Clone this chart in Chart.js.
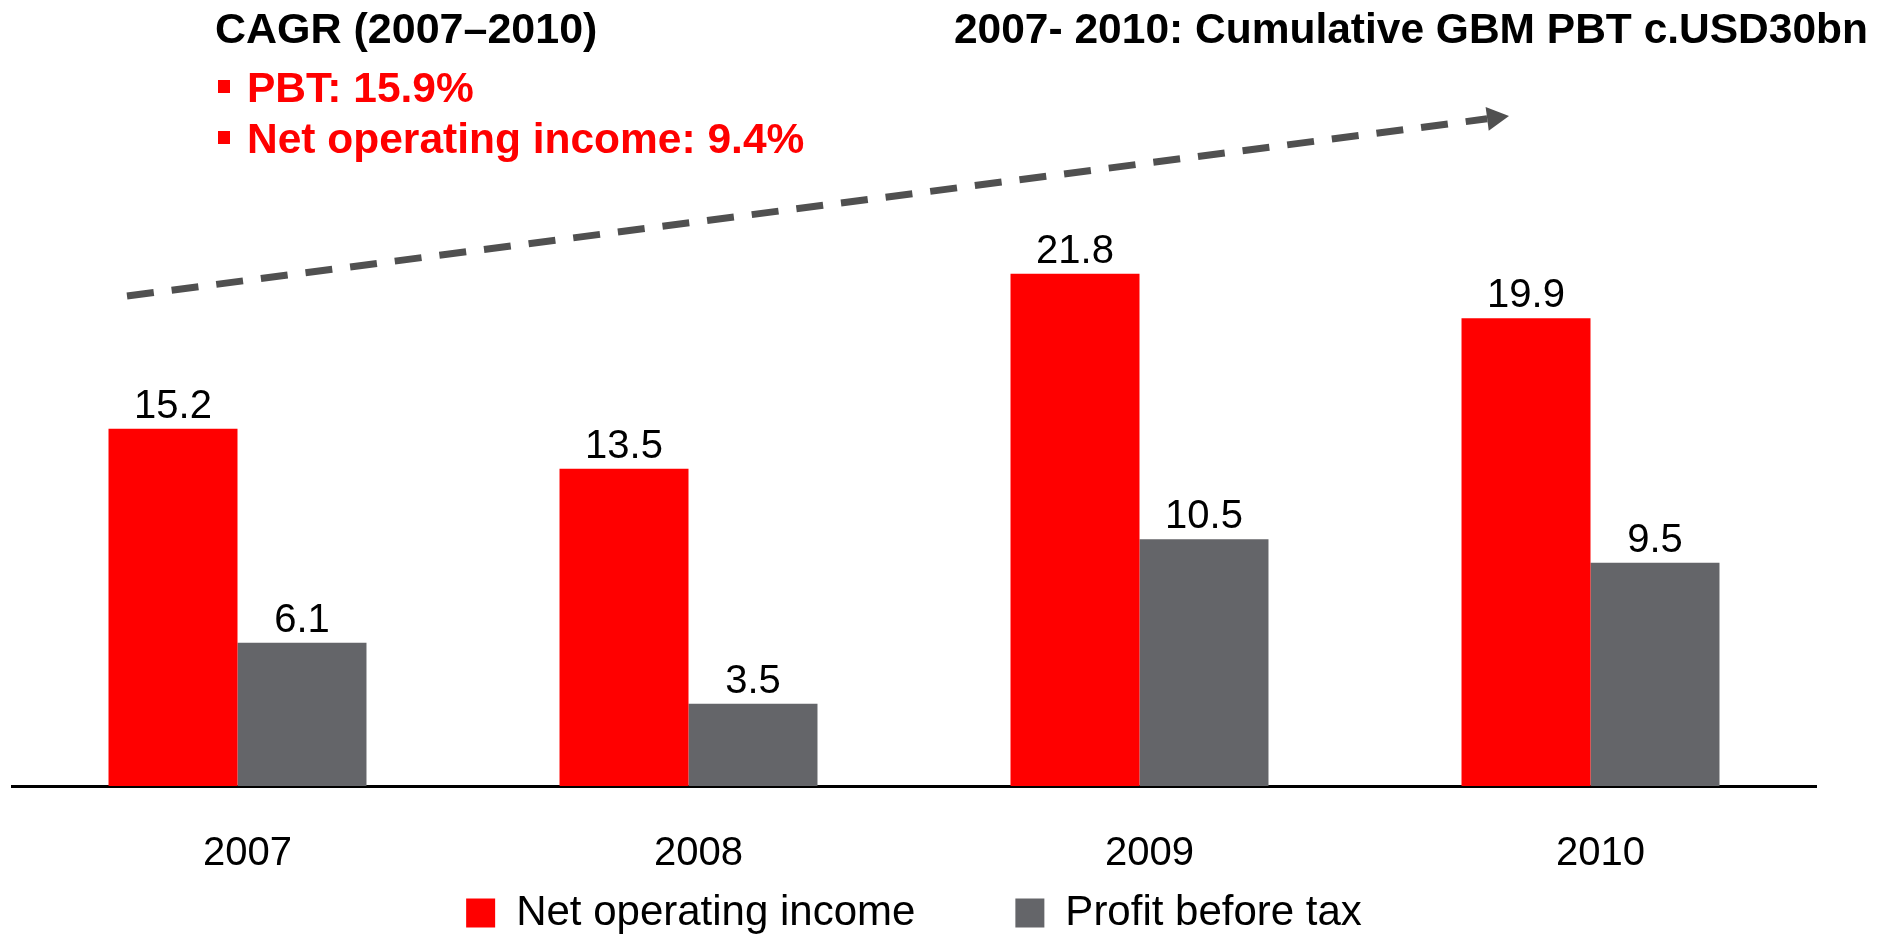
<!DOCTYPE html>
<html>
<head>
<meta charset="utf-8">
<title>GBM net operating income and PBT 2007-2010</title>
<script src="https://cdn.jsdelivr.net/npm/chart.js@4.4.1/dist/chart.umd.min.js"></script>
<style>
  html, body { margin: 0; padding: 0; background: #ffffff; overflow: hidden; }
  canvas { display: block; }
</style>
</head>
<body>
<canvas id="gbmChart" width="1892" height="937"></canvas>
<script>
// data (USD bn)
const years = ["2007", "2008", "2009", "2010"];
const netOperatingIncome = [15.2, 13.5, 21.8, 19.9];
const profitBeforeTax = [6.1, 3.5, 10.5, 9.5];
const seriesNames = ["Net operating income", "Profit before tax"];

const RED = "#ff0000";
const GREY = "#646569";
const FONT = "'Liberation Sans', Arial, sans-serif";

// value labels on top of each bar
const barLabels = {
    id: "barLabels",
    afterDatasetsDraw(chart) {
        const ctx = chart.ctx;
        ctx.save();
        ctx.font = "40px " + FONT;
        ctx.fillStyle = "#000000";
        ctx.textAlign = "center";
        ctx.textBaseline = "alphabetic";
        chart.data.datasets.forEach((ds, i) => {
            chart.getDatasetMeta(i).data.forEach((bar, j) => {
                ctx.fillText(ds.data[j].toFixed(1), bar.x, bar.y - 11);
            });
        });
        ctx.restore();
    }
};

// headings, CAGR bullets and the dashed trend arrow
const slideNotes = {
    id: "slideNotes",
    afterDraw(chart) {
        const ctx = chart.ctx;
        ctx.save();

        ctx.textBaseline = "alphabetic";
        ctx.fillStyle = "#000000";
        ctx.textAlign = "left";
        ctx.font = "bold 43px " + FONT;
        ctx.fillText("CAGR (2007\u20132010)", 215, 43);
        ctx.textAlign = "right";
        ctx.font = "bold 42.5px " + FONT;
        ctx.fillText("2007- 2010: Cumulative GBM PBT c.USD30bn", 1868, 43);

        ctx.fillStyle = RED;
        ctx.textAlign = "left";
        ctx.fillRect(218, 80, 12, 13);
        ctx.fillText("PBT: 15.9%", 247, 102);
        ctx.fillRect(218, 131, 12, 13);
        ctx.fillText("Net operating income: 9.4%", 247, 153);

        // trend arrow
        const x0 = 127, y0 = 296, x1 = 1509, y1 = 116;
        const ang = Math.atan2(y1 - y0, x1 - x0);
        const headLen = 22, headHalf = 12;
        const bx = x1 - headLen * Math.cos(ang), by = y1 - headLen * Math.sin(ang);
        ctx.strokeStyle = "#505050";
        ctx.fillStyle = "#505050";
        ctx.lineWidth = 7;
        ctx.setLineDash([27, 18]);
        ctx.beginPath();
        ctx.moveTo(x0, y0);
        ctx.lineTo(bx, by);
        ctx.stroke();
        ctx.setLineDash([]);
        ctx.beginPath();
        ctx.moveTo(x1, y1);
        ctx.lineTo(bx + headHalf * Math.sin(ang), by - headHalf * Math.cos(ang));
        ctx.lineTo(bx - headHalf * Math.sin(ang), by + headHalf * Math.cos(ang));
        ctx.closePath();
        ctx.fill();

        ctx.restore();
    }
};

function createChart() {
    const ctx = document.getElementById("gbmChart").getContext("2d");
    new Chart(ctx, {
        type: "bar",
        data: {
            labels: years,
            datasets: [
                { label: seriesNames[0], data: netOperatingIncome, backgroundColor: RED, borderWidth: 0 },
                { label: seriesNames[1], data: profitBeforeTax, backgroundColor: GREY, borderWidth: 0 }
            ]
        },
        options: {
            responsive: false,
            animation: false,
            layout: { padding: { top: 81, left: 12, right: 76, bottom: -7 } },
            datasets: { bar: { categoryPercentage: 0.572, barPercentage: 1.0 } },
            scales: {
                x: {
                    grid: { display: false, drawTicks: false },
                    border: { display: true, color: "#000000", width: 3 },
                    ticks: {
                        color: "#000000",
                        font: { family: FONT, size: 40 },
                        // mirrored labels are not clipped to the (thin) axis box
                        mirror: true,
                        padding: -92,
                        labelOffset: 10
                    },
                    // the legend below is tall (wide item padding), so keep the axis box thin
                    afterFit(scale) { scale.height = 6; }
                },
                y: {
                    display: false,
                    min: 0,
                    max: 30
                }
            },
            plugins: {
                legend: {
                    position: "bottom",
                    labels: {
                        color: "#000000",
                        font: { family: FONT, size: 42 },
                        boxWidth: 29,
                        boxHeight: 29,
                        padding: 100
                    }
                },
                tooltip: { enabled: false }
            }
        },
        plugins: [barLabels, slideNotes]
    });
}

document.addEventListener("DOMContentLoaded", createChart);
</script>
</body>
</html>
